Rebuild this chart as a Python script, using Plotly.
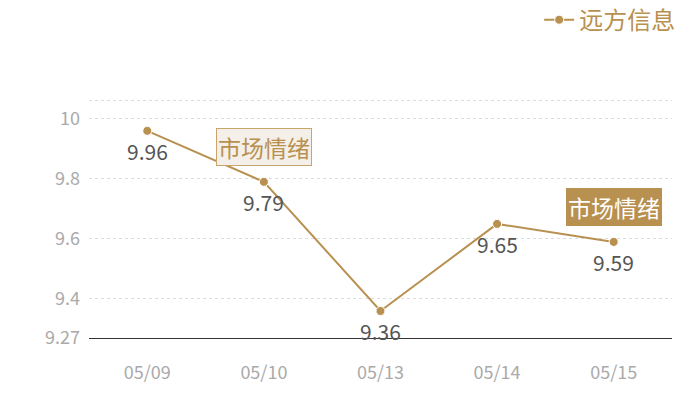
import plotly.graph_objects as go

# data
dates = ['05/09', '05/10', '05/13', '05/14', '05/15']
values = [9.96, 9.79, 9.36, 9.65, 9.59]
series_name = '远方信息'
y_ticks = [9.27, 9.4, 9.6, 9.8, 10, 10.06]
y_tick_text = ['9.27', '9.4', '9.6', '9.8', '10', '']
mark_dates = ['05/10', '05/15']
mark_values = [9.79, 9.59]
mark_label = '市场情绪'

gold = '#b8904f'
font_family = 'Noto Sans CJK SC'

fig = go.Figure()
fig.add_trace(go.Scatter(
    x=dates,
    y=values,
    mode='lines+markers',
    name=series_name,
    line=dict(color=gold, width=2),
    marker=dict(color=gold, size=9, line=dict(color='white', width=1)),
))

# value labels under each point
for d, v in zip(dates, values):
    fig.add_annotation(
        x=d, y=v, yshift=-20, text=str(v), showarrow=False,
        font=dict(color='#555555', size=21, family=font_family),
    )

# mark boxes, first light, second filled
styles = [
    dict(bgcolor='#f4efe8', bordercolor='#c9a56c', color=gold),
    dict(bgcolor=gold, bordercolor=gold, color='#ffffff'),
]
for d, v, st in zip(mark_dates, mark_values, styles):
    fig.add_annotation(
        x=d, y=v, yshift=35, text=mark_label, showarrow=False,
        bgcolor=st['bgcolor'], bordercolor=st['bordercolor'], borderwidth=1,
        borderpad=1,
        font=dict(color=st['color'], size=23, family=font_family),
    )

fig.update_layout(
    width=700, height=400,
    margin=dict(l=81, r=36, t=91, b=70, autoexpand=False),
    plot_bgcolor='white',
    paper_bgcolor='white',
    font=dict(family=font_family),
    showlegend=True,
    legend=dict(
        x=1.014, y=1.33, xanchor='right', yanchor='middle',
        orientation='h',
        font=dict(color=gold, size=24, family=font_family),
        bgcolor='rgba(0,0,0,0)',
        itemwidth=30,
    ),
    xaxis=dict(
        type='category',
        range=[-0.5, 4.5],
        showgrid=False,
        showline=True,
        linecolor='#333333',
        linewidth=1,
        ticks='',
        tickfont=dict(color='#aaaaaa', size=18),
        ticklabelstandoff=18,
    ),
    yaxis=dict(
        range=[9.27, 10.066],
        tickvals=y_ticks,
        ticktext=y_tick_text,
        showgrid=True,
        gridcolor='#dddddd',
        griddash='dot',
        zeroline=False,
        ticks='',
        tickfont=dict(color='#aaaaaa', size=18),
        ticklabelstandoff=8,
    ),
)

fig.write_html('out.html')
